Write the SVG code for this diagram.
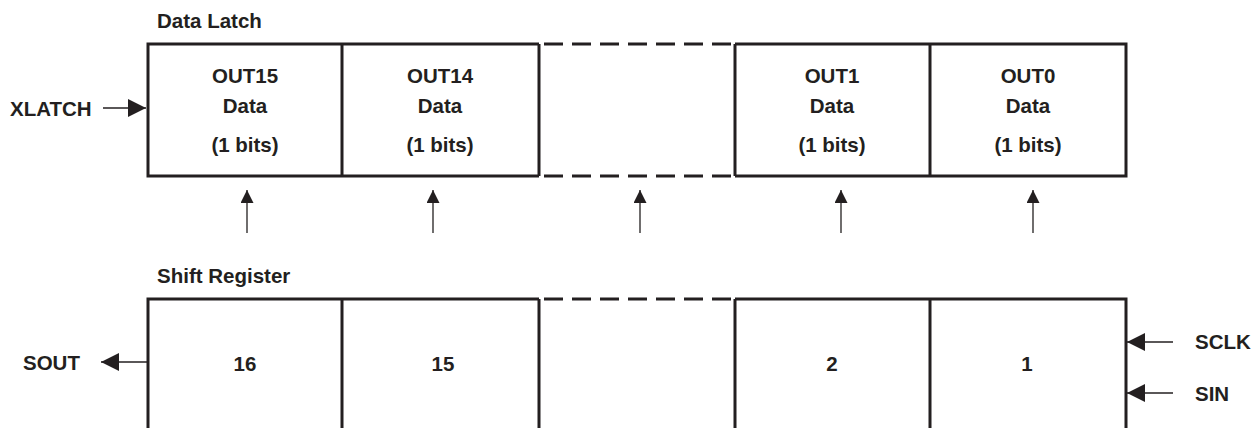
<svg xmlns="http://www.w3.org/2000/svg" width="1253" height="428" viewBox="0 0 1253 428">
<style>
text{font-family:"Liberation Sans",Arial,sans-serif;font-weight:bold;font-size:20.5px;fill:#231f20}
.c{text-anchor:middle}
.box{fill:none;stroke:#231f20;stroke-width:3}
.dash{fill:none;stroke:#231f20;stroke-width:3;stroke-dasharray:19 9}
.ln{stroke:#231f20;stroke-width:1.3;fill:none}
</style>
<defs>
<marker id="ah" markerWidth="13" markerHeight="13" refX="13" refY="6.5" orient="auto" markerUnits="userSpaceOnUse">
<path d="M0,0 L13,6.5 L0,13 Z" fill="#231f20"/>
</marker>
<marker id="ahl" markerWidth="18" markerHeight="18" refX="18" refY="9" orient="auto" markerUnits="userSpaceOnUse">
<path d="M0,0 L18,9 L0,18 Z" fill="#231f20"/>
</marker>
</defs>
<rect width="1253" height="428" fill="#fff"/>
<g id="titles">
<text x="157" y="28" font-size="19">Data Latch</text>
<text x="157" y="283" font-size="19">Shift Register</text>
</g>
<g id="latch">
<path class="box" d="M539,44 H148 V176 H539 M735,44 H1126 V176 H735"/>
<path class="dash" d="M544,44 H735 M544,176 H735"/>
<path class="box" d="M342,44 V176 M539,44 V176 M735,44 V176 M930,44 V176"/>
</g>
<g id="out15"><text class="c" x="245" y="83">OUT15</text><text class="c" x="245" y="113">Data</text><text class="c" x="245" y="152">(1 bits)</text></g>
<g id="out14"><text class="c" x="440" y="83">OUT14</text><text class="c" x="440" y="113">Data</text><text class="c" x="440" y="152">(1 bits)</text></g>
<g id="out1"><text class="c" x="832" y="83">OUT1</text><text class="c" x="832" y="113">Data</text><text class="c" x="832" y="152">(1 bits)</text></g>
<g id="out0"><text class="c" x="1028" y="83">OUT0</text><text class="c" x="1028" y="113">Data</text><text class="c" x="1028" y="152">(1 bits)</text></g>
<g id="shift">
<path class="box" d="M148,440 V299 H539 M735,299 H1126 V440"/>
<path class="dash" d="M544,299 H735"/>
<path class="box" d="M342,299 V440 M539,299 V440 M735,299 V440 M930,299 V440"/>
</g>
<g id="s16"><text class="c" x="245" y="371">16</text></g>
<g id="s15"><text class="c" x="443" y="371">15</text></g>
<g id="s2"><text class="c" x="832" y="371">2</text></g>
<g id="s1"><text class="c" x="1027" y="371">1</text></g>
<g id="xlatch"><text x="10" y="116">XLATCH</text></g>
<g id="sout"><text x="23" y="370">SOUT</text></g>
<g id="sclk"><text x="1195" y="349">SCLK</text></g>
<g id="sin"><text x="1195" y="401">SIN</text></g>
<g id="connectors">
<line class="ln" x1="103" y1="108" x2="146" y2="108" marker-end="url(#ahl)"/>
<line class="ln" x1="147" y1="362" x2="101" y2="362" marker-end="url(#ahl)"/>
<line class="ln" x1="1173" y1="342" x2="1127" y2="342" marker-end="url(#ahl)"/>
<line class="ln" x1="1173" y1="393" x2="1127" y2="393" marker-end="url(#ahl)"/>
<line class="ln" x1="247" y1="233" x2="247" y2="190" marker-end="url(#ah)"/>
<line class="ln" x1="433" y1="233" x2="433" y2="190" marker-end="url(#ah)"/>
<line class="ln" x1="640" y1="233" x2="640" y2="190" marker-end="url(#ah)"/>
<line class="ln" x1="841" y1="233" x2="841" y2="190" marker-end="url(#ah)"/>
<line class="ln" x1="1033" y1="233" x2="1033" y2="190" marker-end="url(#ah)"/>
</g>
</svg>
